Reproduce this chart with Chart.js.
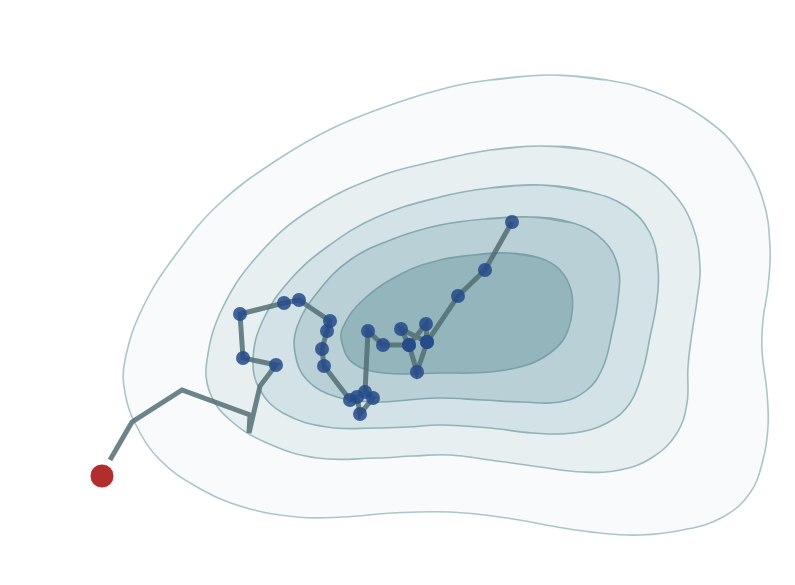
<!DOCTYPE html>
<html>
<head>
<meta charset="utf-8">
<script src="https://cdn.jsdelivr.net/npm/chart.js@4"></script>
<style>
  html, body { margin: 0; padding: 0; background: #fff; }
  #wrap { width: 795px; height: 585px; }
</style>
</head>
<body>
<div id="wrap"><canvas id="chart" width="795" height="585"></canvas></div>
<script>
// contour levels, outer -> inner (plot units, y grows downward), clockwise from the top
const level1X = [550, 607, 657, 707, 740, 763, 770, 768, 763, 762, 767, 768, 763, 750, 723, 683, 640, 600, 557, 507, 450, 393, 343, 297, 243, 197, 160, 137, 125, 125, 143, 177, 220, 277, 335, 396, 450, 490];
const level1Y = [75, 80, 93, 120, 153, 200, 247, 287, 320, 350, 393, 427, 460, 493, 517, 530, 535, 533, 527, 518, 512, 513, 517, 517, 507, 487, 460, 427, 393, 360, 307, 253, 203, 160, 127, 103, 87, 80];

const level2X = [540, 590, 640, 673, 693, 700, 697, 692, 688, 687, 677, 653, 620, 583, 540, 490, 450, 413, 377, 317, 267, 230, 210, 207, 223, 260, 310, 377, 440, 490];
const level2Y = [146, 150, 167, 193, 227, 267, 300, 333, 367, 403, 433, 457, 470, 472, 467, 460, 455, 456, 458, 458, 443, 420, 393, 360, 307, 253, 210, 177, 160, 150];

const level3X = [540, 590, 627, 650, 658, 657, 650, 643, 630, 607, 573, 533, 490, 440, 408, 377, 327, 283, 260, 253, 263, 290, 327, 377, 440, 490];
const level3Y = [185, 192, 207, 233, 267, 300, 337, 370, 403, 423, 433, 433, 428, 425, 427, 428, 427, 413, 390, 360, 320, 280, 247, 217, 197, 188];

const level4X = [530, 573, 603, 618, 618, 612, 603, 587, 560, 523, 483, 440, 408, 377, 337, 307, 295, 297, 317, 350, 393, 440, 485];
const level4Y = [217, 223, 240, 267, 300, 333, 367, 390, 402, 402, 400, 398, 400, 402, 397, 380, 353, 327, 293, 260, 239, 225, 219];

const level5X = [507, 540, 560, 571, 572, 565, 550, 527, 490, 440, 383, 353, 342, 343, 363, 403, 440, 473];
const level5Y = [253, 258, 270, 290, 313, 337, 353, 365, 372, 373, 373, 363, 343, 327, 300, 273, 260, 255];

// search trace: first six points are unmarked bends
const traceX = [110, 132, 182, 250, 249, 260, 276, 243, 240, 284, 299, 330, 327, 322, 324, 350, 357, 360, 373, 365, 368, 383, 409, 401, 427, 426, 409, 417, 427, 458, 485, 512];
const traceY = [460, 422, 390, 415, 433, 386, 365, 358, 314, 303, 300, 321, 331, 349, 366, 400, 397, 414, 398, 392, 331, 345, 345, 329, 342, 324, 345, 372, 342, 296, 270, 222];
const traceMarked = [0, 0, 0, 0, 0, 0, 1, 1, 1, 1, 1, 1, 1, 1, 1, 1, 1, 1, 1, 1, 1, 1, 1, 1, 1, 1, 1, 1, 1, 1, 1, 1];

const startX = [102];
const startY = [476];

const levelFills = ['#f8fafb', '#e7eff1', '#d3e2e6', '#b9d0d6', '#95b5bd'];
const levelLines = ['#abc6cb', '#9dbcc2', '#90b2b9', '#84a8b0', '#79a0a8'];

function toPoints(xs, ys) {
  return xs.map((x, i) => ({ x: x, y: ys[i] }));
}

// closed ring: wrap one point on each side so the spline has no corner at the seam
function toLoop(xs, ys) {
  const pts = toPoints(xs, ys);
  const n = pts.length;
  return [pts[n - 1]].concat(pts, [pts[0], pts[1]]);
}

const levels = [
  [level1X, level1Y],
  [level2X, level2Y],
  [level3X, level3Y],
  [level4X, level4Y],
  [level5X, level5Y]
];

const datasets = levels.map((lv, i) => ({
  data: toLoop(lv[0], lv[1]),
  showLine: true,
  tension: 0.4,
  fill: 'shape',
  backgroundColor: levelFills[i],
  borderColor: levelLines[i],
  borderWidth: 1.6,
  pointRadius: 0,
  order: 20 - i
}));

datasets.push({
  data: toPoints(traceX, traceY),
  showLine: true,
  tension: 0,
  fill: false,
  borderColor: 'rgba(80,108,114,0.84)',
  borderWidth: 5,
  pointRadius: traceMarked.map(m => (m ? 7 : 0)),
  pointBackgroundColor: 'rgba(36,74,138,0.85)',
  pointBorderWidth: 0,
  order: 2
});

datasets.push({
  data: toPoints(startX, startY),
  showLine: false,
  pointRadius: 12,
  pointBackgroundColor: '#b02e2e',
  pointBorderColor: 'rgba(255,255,255,0.9)',
  pointBorderWidth: 1,
  order: 1
});

new Chart(document.getElementById('chart'), {
  type: 'scatter',
  data: { datasets },
  options: {
    responsive: false,
    animation: false,
    layout: { padding: 0, autoPadding: false },
    plugins: { legend: { display: false }, tooltip: { enabled: false } },
    scales: {
      x: { type: 'linear', min: 0, max: 795, display: false },
      y: { type: 'linear', min: 0, max: 585, reverse: true, display: false }
    }
  }
});
</script>
</body>
</html>
